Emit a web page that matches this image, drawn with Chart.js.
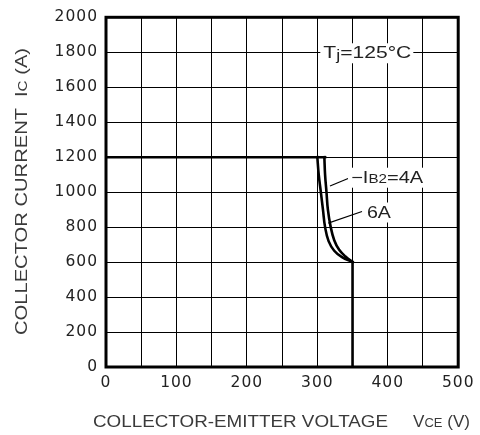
<!DOCTYPE html>
<html>
<head>
<meta charset="utf-8">
<script src="https://cdn.jsdelivr.net/npm/chart.js"></script>
<style>
  html, body { margin: 0; padding: 0; background: #fff; }
  #wrap { width: 480px; height: 435px; }
</style>
</head>
<body>
<div id="wrap"><canvas id="rbsoa"></canvas></div>
<script>
// Reverse bias SOA, Tj = 125°C
const flatV = [0, 311];
const flatI = [1200, 1200];
const ib4V = [310, 311, 313, 315, 319, 324, 331, 340, 350];
const ib4I = [1200, 1100, 1000, 900, 800, 725, 670, 632, 600];
const ib6V = [300, 302, 305, 308, 311, 316, 324, 335, 350];
const ib6I = [1200, 1100, 1000, 900, 800, 720, 665, 628, 600];
const dropV = [350, 350];
const dropI = [600, 0];

const xTicks = [0, 100, 200, 300, 400, 500];
const yTicks = [0, 200, 400, 600, 800, 1000, 1200, 1400, 1600, 1800, 2000];

const TICK_FONT = "'DejaVu Sans', 'Liberation Sans', Arial, sans-serif";
const TEXT_FONT = "'Liberation Sans', Arial, Helvetica, sans-serif";

const pts = (xs, ys) => xs.map((x, i) => ({ x, y: ys[i] }));

const line = (data, smooth) => ({
  data,
  showLine: true,
  borderColor: '#000',
  borderWidth: 2.6,
  pointRadius: 0,
  tension: smooth ? 0.4 : 0,
  borderCapStyle: 'square',
  borderJoinStyle: 'miter',
});

function naturalWidth(ctx, parts) {
  let w = 0;
  parts.forEach((p) => {
    ctx.font = p[1] + 'px ' + TEXT_FONT;
    w += ctx.measureText(p[0]).width;
  });
  return w;
}

// text pieces of mixed size on one baseline, stretched to a given width
function fit(ctx, parts, left, base, width) {
  const w = naturalWidth(ctx, parts);
  ctx.save();
  ctx.translate(left, base);
  ctx.scale(width / w, 1);
  let cx = 0;
  parts.forEach((p) => {
    ctx.font = p[1] + 'px ' + TEXT_FONT;
    ctx.fillText(p[0], cx, p[2] || 0);
    cx += ctx.measureText(p[0]).width;
  });
  ctx.restore();
}

// callouts: left edge of text in data units, text width in px
const notes = [
  { parts: [['T', 16.5], ['j', 14, 2], ['=125°C', 16.5]], v: 308.5, i: 1800, dy: 6, w: 88 },
  { parts: [['\u2212I', 16.5], ['B2', 12.5], ['=4A', 16.5]], v: 348, i: 1054, dy: 0, w: 72 },
  { parts: [['6A', 16.5]], v: 370.4, i: 855, dy: 0, w: 24 },
];
const leaders = [
  { from: [318, 1035], to: [343.7, 1078] },
  { from: [315.5, 823], to: [363.4, 889.5] },
];

const decor = {
  id: 'decor',
  beforeDraw(chart) {
    chart.ctx.letterSpacing = '1px';
  },
  afterDraw(chart) {
    const { ctx, chartArea: a, scales: { x, y } } = chart;
    ctx.save();
    ctx.letterSpacing = '0px';
    ctx.textBaseline = 'alphabetic';
    ctx.textAlign = 'left';

    // plot frame
    ctx.strokeStyle = '#000';
    ctx.lineWidth = 3;
    ctx.strokeRect(a.left, a.top, a.right - a.left, a.bottom - a.top);

    ctx.lineWidth = 1.2;
    leaders.forEach((n) => {
      ctx.beginPath();
      ctx.moveTo(x.getPixelForValue(n.from[0]), y.getPixelForValue(n.from[1]));
      ctx.lineTo(x.getPixelForValue(n.to[0]), y.getPixelForValue(n.to[1]));
      ctx.stroke();
    });

    notes.forEach((n) => {
      const lx = x.getPixelForValue(n.v);
      const by = y.getPixelForValue(n.i) + n.dy;
      ctx.fillStyle = '#fff';
      ctx.fillRect(lx - 3, by - 15, n.w + 5, 20);
      ctx.fillStyle = '#222';
      fit(ctx, n.parts, lx, by, n.w);
    });

    // axis titles
    ctx.fillStyle = '#3a3a3a';
    fit(ctx, [['COLLECTOR-EMITTER VOLTAGE', 16.5]], 93, 427, 295);
    fit(ctx, [['V', 16.5], ['CE', 12.5], [' (V)', 16.5]], 413, 427, 57);

    ctx.translate(27, 0);
    ctx.rotate(-Math.PI / 2);
    fit(ctx, [['COLLECTOR CURRENT', 16.5]], -335, 0, 227);
    fit(ctx, [['I', 16.5], ['C', 12.5], [' (A)', 16.5]], -97, 0, 49);
    ctx.restore();
  },
};

new Chart(document.getElementById('rbsoa'), {
  type: 'scatter',
  data: {
    datasets: [
      line(pts(flatV, flatI), false),
      line(pts(ib4V, ib4I), true),
      line(pts(ib6V, ib6I), true),
      line(pts(dropV, dropI), false),
    ],
  },
  options: {
    responsive: true,
    maintainAspectRatio: false,
    animation: false,
    layout: { padding: { top: 14, right: 19, left: 0, bottom: 0 } },
    plugins: { legend: { display: false }, tooltip: { enabled: false } },
    scales: {
      x: {
        type: 'linear',
        min: 0,
        max: 500,
        afterBuildTicks: (s) => {
          const t = [];
          for (let v = 0; v <= 500; v += 50) t.push({ value: v });
          s.ticks = t;
        },
        ticks: {
          autoSkip: false,
          maxRotation: 0,
          padding: 7,
          color: '#222',
          font: { family: TICK_FONT, size: 15.5 },
          callback: (v) => (xTicks.includes(v) ? String(v) : ''),
        },
        grid: { color: '#000', lineWidth: 1, drawTicks: false },
        border: { display: false },
        afterFit: (s) => { s.height = 68; },
      },
      y: {
        type: 'linear',
        min: 0,
        max: 2000,
        afterBuildTicks: (s) => { s.ticks = yTicks.map((v) => ({ value: v })); },
        ticks: {
          autoSkip: false,
          padding: 8,
          color: '#222',
          font: { family: TICK_FONT, size: 15.5 },
          callback: (v) => String(v),
        },
        grid: { color: '#000', lineWidth: 1, drawTicks: false },
        border: { display: false },
        afterFit: (s) => { s.width = 106; },
      },
    },
  },
  plugins: [decor],
});
</script>
</body>
</html>
